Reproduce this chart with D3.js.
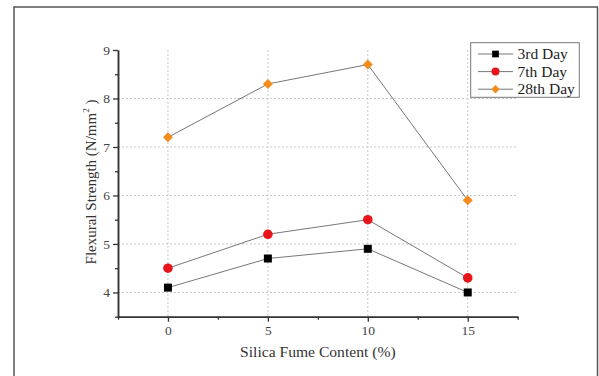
<!DOCTYPE html>
<html><head><meta charset="utf-8">
<script src="https://cdn.jsdelivr.net/npm/d3@7"></script>
<style>body{margin:0;background:#fff}svg{display:block}</style>
</head><body>
<svg id="c" width="599" height="376"></svg>
<script>
const categories = [0, 5, 10, 15];
const day3 = [4.1, 4.7, 4.9, 4.0];
const day7 = [4.5, 5.2, 5.5, 4.3];
const day28 = [7.2, 8.3, 8.7, 5.9];
const xTicks = [0, 5, 10, 15];
const yTicks = [4, 5, 6, 7, 8, 9];
const seriesNames = ["3rd Day", "7th Day", "28th Day"];

const svg = d3.select("#c");
const font = "'Liberation Serif','Times New Roman',serif";
svg.append("rect").attr("x",14).attr("y",7).attr("width",583.5).attr("height",380)
  .attr("fill","none").attr("stroke","#555").attr("stroke-width",1.5);

const x = d3.scaleLinear().domain([-2.5,17.5]).range([118,517.7]);
const y = d3.scaleLinear().domain([3.5,9]).range([316.7,50]);

const g = svg.append("g");
g.selectAll(".gy").data(yTicks.filter(d=>d<9)).enter().append("line")
  .attr("x1",x(-2.5)).attr("x2",x(17.5)).attr("y1",d=>y(d)).attr("y2",d=>y(d))
  .attr("stroke","#c8c8c8").attr("stroke-dasharray","2,2").attr("stroke-width",1);
g.selectAll(".gx").data(xTicks).enter().append("line")
  .attr("x1",d=>x(d)).attr("x2",d=>x(d)).attr("y1",y(9)).attr("y2",y(3.5))
  .attr("stroke","#c8c8c8").attr("stroke-dasharray","2,2").attr("stroke-width",1);

const xAxis = d3.axisBottom(x).tickValues(xTicks).tickSize(5).tickSizeOuter(0).tickPadding(4).tickFormat(d3.format("d"));
const xMinor = d3.axisBottom(x).tickValues([-2.5,2.5,7.5,12.5,17.5]).tickSize(3).tickSizeOuter(0).tickFormat("");
const yAxis = d3.axisLeft(y).tickValues(yTicks).tickSize(5).tickSizeOuter(0).tickPadding(3).tickFormat(d3.format("d"));
const yMinor = d3.axisLeft(y).tickValues([3.5,4.5,5.5,6.5,7.5,8.5]).tickSize(3).tickSizeOuter(0).tickFormat("");

function style(sel){
  sel.select(".domain").attr("stroke","#333").attr("stroke-width",1.5);
  sel.selectAll(".tick line").attr("stroke","#333").attr("stroke-width",1.3);
  sel.selectAll("text").attr("font-family",font).attr("font-size",13.5).attr("fill","#444");
}
svg.append("g").attr("transform",`translate(0,${y(3.5)})`).call(xMinor).call(style);
svg.append("g").attr("transform",`translate(0,${y(3.5)})`).call(xAxis).call(style);
svg.append("g").attr("transform",`translate(${x(-2.5)},0)`).call(yMinor).call(style);
svg.append("g").attr("transform",`translate(${x(-2.5)},0)`).call(yAxis).call(style);

svg.append("text").attr("x",(x(-2.5)+x(17.5))/2).attr("y",357).attr("text-anchor","middle")
  .attr("font-family",font).attr("font-size",15.6).attr("fill","#333").text("Silica Fume Content (%)");
const yl = svg.append("text").attr("transform","translate(96,182) rotate(-90)").attr("text-anchor","middle")
  .attr("font-family",font).attr("font-size",15).attr("fill","#333");
yl.append("tspan").text("Flexural Strength (N/mm");
yl.append("tspan").attr("dy",-7).attr("font-size",9).text("2");
yl.append("tspan").attr("dy",7).text(" )");

const colors = ["#000000","#e8141b","#f28c1c"];
const data = [day3, day7, day28];
const line = d3.line().x((d,i)=>x(categories[i])).y(d=>y(d));
data.forEach((s,k)=>{
  svg.append("path").datum(s).attr("d",line).attr("fill","none").attr("stroke","#777").attr("stroke-width",1);
});
const symbols = [d3.symbolSquare, d3.symbolCircle, d3.symbolSquare];
const sizes = [64, 72, 50];
const rot = [0, 0, 45];
data.forEach((s,k)=>{
  svg.selectAll(null).data(s).enter().append("path")
    .attr("d",d3.symbol().type(symbols[k]).size(sizes[k]))
    .attr("transform",(d,i)=>`translate(${x(categories[i])},${y(d)}) rotate(${rot[k]})`)
    .attr("fill",colors[k]);
});

const lg = svg.append("g");
lg.append("rect").attr("x",470.7).attr("y",42.7).attr("width",108.6).attr("height",54.6)
  .attr("fill","#fff").attr("stroke","#777").attr("stroke-width",1);
seriesNames.forEach((n,k)=>{
  const yy = 54 + k*17.6;
  lg.append("line").attr("x1",478).attr("x2",513).attr("y1",yy).attr("y2",yy).attr("stroke","#777").attr("stroke-width",1);
  lg.append("path").attr("d",d3.symbol().type(symbols[k]).size(sizes[k]*0.7)).attr("transform",`translate(495.5,${yy}) rotate(${rot[k]})`).attr("fill",colors[k]);
  lg.append("text").attr("x",517.5).attr("y",yy+5).attr("font-family",font).attr("font-size",15.5).attr("fill","#222").text(n);
});
</script>
</body></html>
